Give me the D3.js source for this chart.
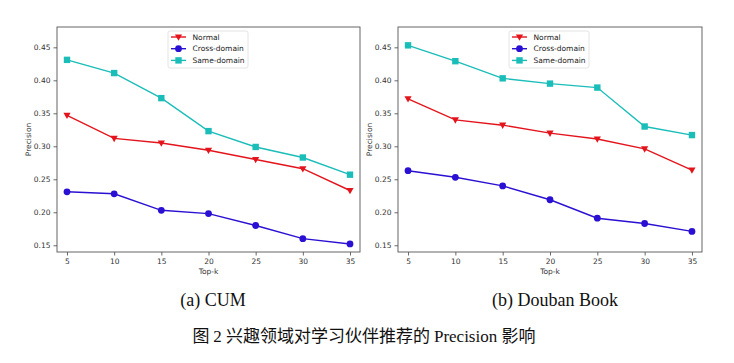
<!DOCTYPE html>
<html>
<head>
<meta charset="utf-8">
<script src="https://cdn.jsdelivr.net/npm/d3@7"></script>
<style>
  body { margin: 0; background: #fff; }
  .tick text { font-family: 'DejaVu Sans', sans-serif; font-size: 7.5px; fill: #333; }
  .axis-label { font-family: 'DejaVu Sans', sans-serif; font-size: 7.5px; fill: #333; }
  .legend text { font-family: 'DejaVu Sans', sans-serif; font-size: 7.5px; fill: #222; }
</style>
</head>
<body>
<div id="chart"></div>
<script>
const topK = [5, 10, 15, 20, 25, 30, 35];
const yTicks = [0.15, 0.20, 0.25, 0.30, 0.35, 0.40, 0.45];
const seriesNames = ['Normal', 'Cross-domain', 'Same-domain'];

// CUM
const cumNormal = [0.347, 0.312, 0.305, 0.294, 0.280, 0.266, 0.233];
const cumCross  = [0.231, 0.228, 0.203, 0.198, 0.180, 0.160, 0.152];
const cumSame   = [0.431, 0.411, 0.373, 0.323, 0.299, 0.283, 0.257];

// Douban Book
const doubanNormal = [0.372, 0.340, 0.332, 0.320, 0.311, 0.296, 0.264];
const doubanCross  = [0.263, 0.253, 0.240, 0.219, 0.191, 0.183, 0.171];
const doubanSame   = [0.453, 0.429, 0.403, 0.395, 0.389, 0.330, 0.317];

const colors = { 'Normal': '#e4141c', 'Cross-domain': '#2a10d2', 'Same-domain': '#1bbdb9' };
const symbols = { 'Normal': 'tri', 'Cross-domain': 'circle', 'Same-domain': 'square' };

const svg = d3.select('#chart').append('svg')
    .attr('width', 734)
    .attr('height', 363);

const height = 225;

const panels = [
  { left: 57, width: 303, legendX: 168, caption: '(a) CUM', captionX: 213,
    data: [cumNormal, cumCross, cumSame] },
  { left: 398, width: 304, legendX: 509, caption: '(b) Douban Book', captionX: 555,
    data: [doubanNormal, doubanCross, doubanSame] }
];

function drawMarker(g, type, color) {
  if (type === 'circle') {
    g.append('circle').attr('r', 3.4).attr('fill', color);
  } else if (type === 'square') {
    g.append('rect').attr('x', -3.2).attr('y', -3.2).attr('width', 6.4).attr('height', 6.4).attr('fill', color);
  } else {
    g.append('path').attr('d', 'M-3.6,-2.6L3.6,-2.6L0,3.8Z').attr('fill', color);
  }
}

panels.forEach(p => {
  const wrapper = svg.append('g')
      .attr('transform', 'translate(' + p.left + ',27)');

  const x = d3.scaleLinear().domain([3.94, 36.06]).range([0, p.width]);
  const y = d3.scaleLinear().domain([0.1398, 0.4808]).range([height, 0]);

  const xAxis = wrapper.append('g')
      .attr('transform', 'translate(0,' + height + ')')
      .call(d3.axisBottom(x).tickValues(topK).tickSize(3.5).tickPadding(3).tickFormat(d3.format('d')));
  const yAxis = wrapper.append('g')
      .call(d3.axisLeft(y).tickValues(yTicks).tickSize(3.5).tickPadding(3).tickFormat(d3.format('.2f')));
  [xAxis, yAxis].forEach(a => {
    a.select('.domain').remove();
    a.selectAll('.tick line').attr('stroke', '#444').attr('stroke-width', 0.8);
  });

  wrapper.append('rect')
      .attr('width', p.width)
      .attr('height', height)
      .attr('fill', 'none')
      .attr('stroke', '#555')
      .attr('stroke-width', 0.9);

  wrapper.append('text')
      .attr('class', 'axis-label')
      .attr('x', p.width / 2)
      .attr('y', height + 22)
      .attr('text-anchor', 'middle')
      .text('Top-k');

  wrapper.append('text')
      .attr('class', 'axis-label')
      .attr('transform', 'translate(-26,' + height / 2 + ') rotate(-90)')
      .attr('text-anchor', 'middle')
      .text('Precision');

  const line = d3.line()
      .x((d, i) => x(topK[i]))
      .y(d => y(d));

  seriesNames.forEach((name, si) => {
    const values = p.data[si];
    wrapper.append('path')
        .datum(values)
        .attr('d', line)
        .attr('fill', 'none')
        .attr('stroke', colors[name])
        .attr('stroke-width', 1.4);
    values.forEach((v, i) => {
      const g = wrapper.append('g')
          .attr('transform', 'translate(' + x(topK[i]) + ',' + y(v) + ')');
      drawMarker(g, symbols[name], colors[name]);
    });
  });

  // legend
  const legend = svg.append('g')
      .attr('class', 'legend')
      .attr('transform', 'translate(' + p.legendX + ',31)');
  legend.append('rect')
      .attr('width', 80)
      .attr('height', 37)
      .attr('rx', 2)
      .attr('fill', '#fff')
      .attr('stroke', '#ddd')
      .attr('stroke-width', 0.8);
  seriesNames.forEach((name, i) => {
    const row = legend.append('g')
        .attr('transform', 'translate(0,' + (6 + i * 11.7) + ')');
    row.append('line')
        .attr('x1', 3).attr('x2', 18)
        .attr('stroke', colors[name])
        .attr('stroke-width', 1.4);
    const m = row.append('g').attr('transform', 'translate(10.5,0)');
    drawMarker(m, symbols[name], colors[name]);
    row.append('text')
        .attr('x', 24.5)
        .attr('y', 2.7)
        .text(name);
  });

  svg.append('text')
      .attr('x', p.captionX)
      .attr('y', 306)
      .attr('text-anchor', 'middle')
      .style('font-family', "'Liberation Serif', 'Times New Roman', serif")
      .style('font-size', '18px')
      .style('fill', '#111')
      .text(p.caption);
});

const caption = svg.append('text')
    .attr('x', 364)
    .attr('y', 342)
    .attr('text-anchor', 'middle')
    .style('font-size', '17px')
    .style('fill', '#111');
caption.append('tspan')
    .style('font-family', "'Noto Sans CJK SC', sans-serif")
    .text('图 ');
caption.append('tspan')
    .style('font-family', "'Liberation Serif', serif")
    .text('2 ');
caption.append('tspan')
    .style('font-family', "'Noto Sans CJK SC', sans-serif")
    .text('兴趣领域对学习伙伴推荐的 ');
caption.append('tspan')
    .style('font-family', "'Liberation Serif', serif")
    .text('Precision ');
caption.append('tspan')
    .style('font-family', "'Noto Sans CJK SC', sans-serif")
    .text('影响');
</script>
</body>
</html>
